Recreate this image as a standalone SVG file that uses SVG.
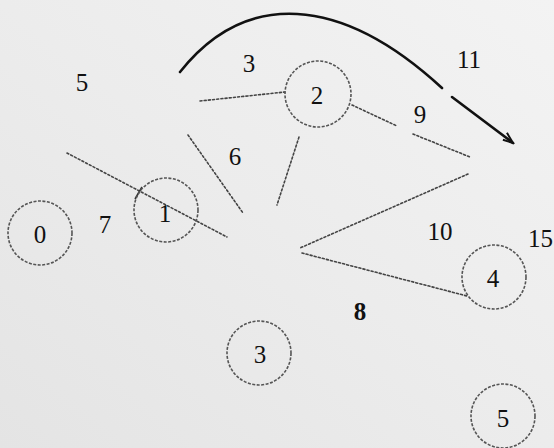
<svg xmlns="http://www.w3.org/2000/svg" width="554" height="448" viewBox="0 0 554 448">
<defs>
<linearGradient id="bg" x1="0" y1="1" x2="1" y2="0">
<stop offset="0" stop-color="#e4e4e4"/>
<stop offset="0.5" stop-color="#ececec"/>
<stop offset="1" stop-color="#f3f3f3"/>
</linearGradient>
<marker id="arr" markerWidth="14" markerHeight="12" refX="12" refY="6" orient="auto" markerUnits="userSpaceOnUse">
<path d="M1,1.5 L12,6 L2,9.5" fill="none" stroke="#111" stroke-width="2"/>
</marker>
<style>
.node circle{fill:none;stroke:#555;stroke-width:1.6;stroke-dasharray:3 1.5}
.lbl{font-family:"Liberation Serif","Times New Roman",serif;font-size:25px;fill:#111;text-anchor:middle}
.dot{fill:none;stroke:#444;stroke-width:1.6;stroke-dasharray:2 2.2;stroke-linecap:round}
.curve{fill:none;stroke:#111;stroke-width:2.6;stroke-linecap:round}
</style>
</defs>
<rect width="554" height="448" fill="url(#bg)"/>
<g id="connectors">
<path class="curve" d="M180,72 C245,-10 340,-6 442,88"/>
<path class="curve" d="M452,97 L513,143" marker-end="url(#arr)"/>
<line class="dot" x1="200" y1="101" x2="285" y2="92"/>
<line class="dot" x1="352" y1="105" x2="397" y2="126"/>
<line class="dot" x1="413" y1="134" x2="470" y2="157"/>
<line class="dot" x1="299" y1="137" x2="277" y2="205"/>
<line class="dot" x1="188" y1="135" x2="243" y2="213"/>
<line class="dot" x1="67" y1="153" x2="227" y2="237"/>
<line x1="135" y1="199" x2="142" y2="187" stroke="#333" stroke-width="1.6"/>
<line class="dot" x1="468" y1="174" x2="300" y2="248"/>
<line class="dot" x1="302" y1="253" x2="467" y2="296"/>
</g>
<g id="edge-labels">
<text class="lbl" x="82" y="91">5</text>
<text class="lbl" x="249" y="72">3</text>
<text class="lbl" x="235" y="165">6</text>
<text class="lbl" x="105" y="233">7</text>
<text class="lbl" x="469" y="68">11</text>
<text class="lbl" x="420" y="123">9</text>
<text class="lbl" x="440" y="240">10</text>
<text class="lbl" x="553" y="247" text-anchor="end" style="text-anchor:end">15</text>
<text class="lbl" x="360" y="320" font-weight="bold">8</text>
</g>
<g id="node0" class="node"><circle cx="40" cy="233" r="32"/><text class="lbl" x="40" y="243">0</text></g>
<g id="node1" class="node"><circle cx="166" cy="210" r="32"/><text class="lbl" x="165" y="222">1</text></g>
<g id="node2" class="node"><circle cx="318" cy="94" r="33"/><text class="lbl" x="317" y="104">2</text></g>
<g id="node3" class="node"><circle cx="259" cy="353" r="32"/><text class="lbl" x="260" y="363">3</text></g>
<g id="node4" class="node"><circle cx="494" cy="277" r="32"/><text class="lbl" x="493" y="287">4</text></g>
<g id="node5" class="node"><circle cx="503" cy="416" r="32"/><text class="lbl" x="503" y="427">5</text></g>
</svg>
